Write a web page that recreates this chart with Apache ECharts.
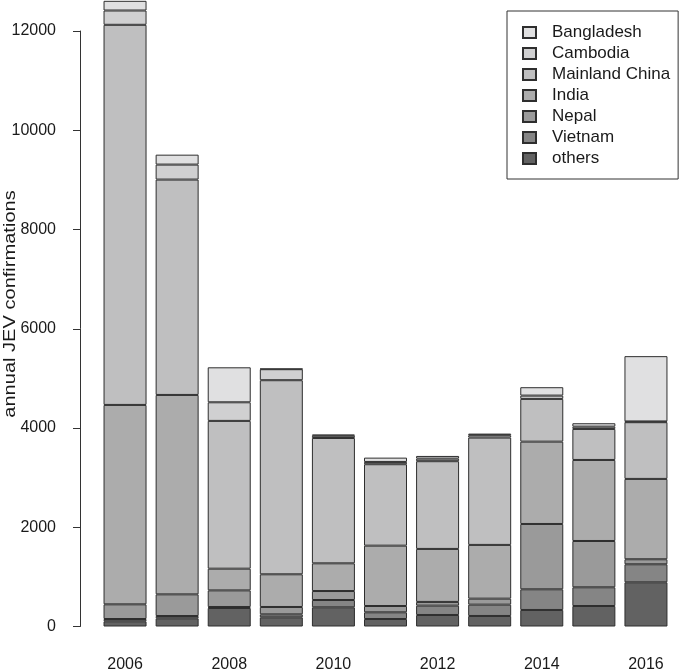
<!DOCTYPE html>
<html>
<head>
<meta charset="utf-8">
<script src="https://cdn.jsdelivr.net/npm/echarts@6/dist/echarts.min.js"></script>
<style>
html,body{margin:0;padding:0;background:#fff;}
#chart{width:681px;height:671px;}
</style>
</head>
<body>
<div id="chart"></div>
<script>
var years = ['2006','2007','2008','2009','2010','2011','2012','2013','2014','2015','2016'];
var yTicks = [0, 2000, 4000, 6000, 8000, 10000, 12000];
var legendOrder = ['Bangladesh','Cambodia','Mainland China','India','Nepal','Vietnam','others'];

var others     = [105, 165, 373, 185, 387, 151, 232, 212, 333, 413, 891];
var vietnam    = [46, 46, 20, 60, 147, 135, 188, 228, 417, 377, 363];
var nepal      = [296, 437, 335, 148, 181, 127, 75, 121, 1316, 933, 101];
var india      = [4018, 4018, 437, 659, 558, 1216, 1068, 1083, 1659, 1633, 1619];
var china      = [7660, 4340, 2978, 3911, 2526, 1641, 1768, 2163, 861, 625, 1143];
var cambodia   = [288, 302, 375, 222, 45, 46, 52, 48, 67, 46, 15];
var bangladesh = [195, 200, 705, 10, 25, 87, 54, 32, 169, 69, 1316];

var stackSeries = [
  {name:'others', data:others, color:'#626262'},
  {name:'Vietnam', data:vietnam, color:'#858585'},
  {name:'Nepal', data:nepal, color:'#9a9a9a'},
  {name:'India', data:india, color:'#acacac'},
  {name:'Mainland China', data:china, color:'#bfbfc0'},
  {name:'Cambodia', data:cambodia, color:'#d0d0d1'},
  {name:'Bangladesh', data:bangladesh, color:'#e0e0e1'}
];

var chart = echarts.init(document.getElementById('chart'), null, {renderer:'canvas'});
var font = 'Liberation Sans, Arial, Helvetica, sans-serif';
chart.setOption({
  animation:false,
  backgroundColor:'#ffffff',
  textStyle:{fontFamily:font},
  grid:{left:99, right:9, top:31, bottom:44.5, containLabel:false, outerBoundsMode:'none'},
  xAxis:{
    type:'category', data:years,
    axisLine:{show:false}, axisTick:{show:false},
    axisLabel:{interval:1, fontSize:16, color:'#1a1a1a', margin:30, fontFamily:font}
  },
  yAxis:{
    type:'value', min:yTicks[0], max:yTicks[yTicks.length-1], interval:2000, offset:19,
    axisLine:{show:true, lineStyle:{color:'#333', width:1}},
    axisTick:{show:true, length:7, lineStyle:{color:'#333', width:1}},
    axisLabel:{fontSize:16, color:'#1a1a1a', margin:24, fontFamily:font,
      formatter:function(v){ return String(v); }},
    splitLine:{show:false}
  },
  legend:{
    orient:'vertical', left:507, top:11,
    data:legendOrder,
    icon:'rect', itemWidth:13, itemHeight:11, itemGap:4,
    borderColor:'#333', borderWidth:1,
    padding:[13,8,12,15],
    selectedMode:false,
    textStyle:{fontSize:17, color:'#1a1a1a', lineHeight:17, padding:[0,0,0,11], fontFamily:font}
  },
  graphic:[{
    type:'text', x:10, y:304, rotation:Math.PI/2, scaleX:1.18, scaleY:1,
    style:{text:'annual JEV confirmations', fontSize:17, fontFamily:font, fill:'#1a1a1a', textAlign:'center', textVerticalAlign:'middle'}
  }],
  series: stackSeries.map(function(s){
    return {
      name:s.name, type:'bar', stack:'total', data:s.data, barWidth:43, clip:false,
      itemStyle:{color:s.color, borderColor:'#2e2e2e', borderWidth:1},
      emphasis:{disabled:true}
    };
  })
});
</script>
</body>
</html>
